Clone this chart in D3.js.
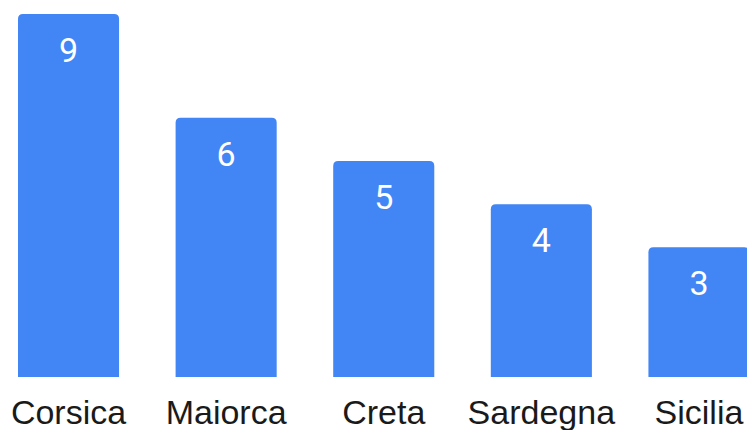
<!DOCTYPE html>
<html>
<head>
<meta charset="utf-8">
<script src="https://cdn.jsdelivr.net/npm/d3@7"></script>
<style>
  html, body { margin: 0; padding: 0; background: #fff; overflow: hidden; }
  svg { display: block; }
</style>
</head>
<body>
<svg id="chart" width="747" height="430"></svg>
<script>
// Islands and their counts
const islands = ["Corsica", "Maiorca", "Creta", "Sardegna", "Sicilia"];
const counts = [9, 6, 5, 4, 3];

const svg = d3.select("#chart");

const x = d3.scaleBand()
  .domain(islands)
  .range([18, 749.5])
  .paddingInner(0.3587)
  .paddingOuter(0);

// Value axis is clamped so the tallest bar stops just under the top edge
const y = d3.scaleLinear()
  .domain([0, 8.4])
  .range([377, 14])
  .clamp(true);

const data = islands.map((name, i) => ({ name, value: counts[i] }));

// Bar with rounded top corners only
function barPath(x0, y0, w, h, r) {
  r = Math.min(r, w / 2, h);
  return `M${x0},${y0 + h}` +
    `V${y0 + r}` +
    `Q${x0},${y0} ${x0 + r},${y0}` +
    `H${x0 + w - r}` +
    `Q${x0 + w},${y0} ${x0 + w},${y0 + r}` +
    `V${y0 + h}Z`;
}

svg.append("g")
  .selectAll("path")
  .data(data)
  .join("path")
  .attr("fill", "#4285f4")
  .attr("d", d => barPath(x(d.name), y(d.value), x.bandwidth(), y(0) - y(d.value), 5));

// Value labels inside the bars
svg.append("g")
  .selectAll("text")
  .data(data)
  .join("text")
  .attr("x", d => x(d.name) + x.bandwidth() / 2)
  .attr("y", d => y(d.value) + 36)
  .attr("text-anchor", "middle")
  .attr("dominant-baseline", "central")
  .attr("fill", "#ffffff")
  .style("font-family", "Roboto, 'Open Sans', sans-serif")
  .style("font-size", "34px")
  .text(d => d.value);

// Category axis
const xAxis = svg.append("g")
  .attr("transform", `translate(0,${y(0)})`)
  .call(d3.axisBottom(x).tickSize(0).tickPadding(0));
xAxis.select(".domain").remove();
xAxis.selectAll("text")
  .attr("dy", null)
  .attr("y", 47)
  .attr("fill", "#1a1a1a")
  .style("font-family", "'Liberation Sans', Arial, sans-serif")
  .style("font-size", "34px");
</script>
</body>
</html>
